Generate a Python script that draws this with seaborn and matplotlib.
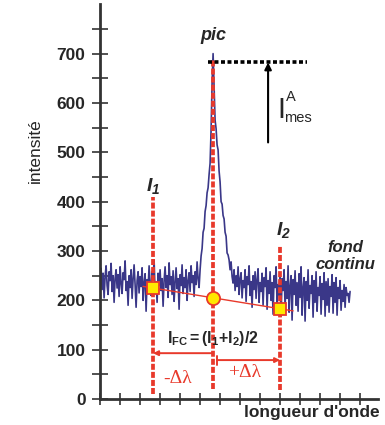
import numpy as np
import pandas as pd
import matplotlib
matplotlib.use("Agg")
import matplotlib.pyplot as plt
import seaborn as sns

# ---- data ----
baseline_left = [
    238, 265, 222, 255, 205, 248, 270, 230, 212, 258,
    240, 275, 218, 250, 196, 245, 262, 225, 252, 208,
    268, 235, 214, 256, 242, 280, 220, 238, 190, 250,
    226, 262, 204, 244, 272, 232, 186, 240, 258, 215,
    248, 228, 266, 200, 236, 254, 178, 242, 222, 270,
    234, 210, 258, 246, 282, 216, 238, 196, 255, 230,
    262, 220, 244, 188, 240, 268, 226, 250, 206, 276,
    232, 248, 212, 260, 198, 236, 266, 224, 244, 182,
    252, 230, 272, 214, 246, 226, 262, 200, 240, 256,
    218, 270, 236, 250, 208, 258, 232, 278, 244, 226,
    262,
]
peak = [
    290, 305, 338, 346, 380, 392, 418, 428, 455, 478,
    545, 640, 700, 630, 565, 548, 515, 505, 462, 440,
    400, 395, 372, 365, 338, 330, 296, 292, 282, 262,
    278, 248,
]
baseline_right = [
    235, 262, 220, 250, 228, 268, 212, 244, 256, 205,
    240, 226, 262, 198, 248, 232, 270, 210, 238, 186,
    250, 222, 258, 204, 242, 264, 196, 236, 218, 255,
    190, 246, 228, 266, 182, 240, 214, 258, 200, 236,
    172, 250, 226, 268, 194, 232, 210, 256, 168, 244,
    220, 262, 186, 238, 204, 270, 176, 228, 250, 160,
    242, 212, 260, 190, 236, 178, 254, 206, 268, 170,
    226, 246, 158, 238, 200, 262, 184, 230, 214, 250,
    166, 240, 196, 258, 178, 226, 210, 248, 172, 234,
    202, 256, 168, 238, 190, 244, 176, 228, 208, 252,
    174, 236, 196, 246, 170, 226, 204, 240, 180, 220,
    198, 232, 186, 226, 210, 214, 196, 218,
]
intensity = baseline_left + peak + baseline_right
wavelength = np.linspace(0, 12.5, len(intensity))

lam_I1, lam_pic, lam_I2 = 2.65, 5.65, 9.0
I1, IFC, I2 = 225, 205, 183
peak_top = 682
y_major = [0, 100, 200, 300, 400, 500, 600, 700]

df = pd.DataFrame({"lam": wavelength, "I": intensity})

sns.set_theme(style="white")
plt.rcParams["font.family"] = ["Liberation Sans", "DejaVu Sans"]
plt.rcParams["mathtext.fontset"] = "custom"
plt.rcParams["mathtext.rm"] = "Liberation Sans"
plt.rcParams["mathtext.bf"] = "Liberation Sans:bold"
plt.rcParams["mathtext.it"] = "Liberation Sans:italic"
plt.rcParams["mathtext.bfit"] = "Liberation Sans:bold:italic"

fig = plt.figure(figsize=(3.85, 4.25), dpi=100)
ax = fig.add_axes([0.26, 0.061, 0.722, 0.929])

RED = "#e8392b"
NAVY = "#3a3788"

sns.lineplot(data=df, x="lam", y="I", ax=ax, color=NAVY, lw=1.2, zorder=2)

# red dashed verticals
dash = (0, (1.6, 0.55))
ax.plot([lam_I1, lam_I1], [10, 410], color=RED, lw=2.7, ls=dash, zorder=3)
ax.plot([lam_pic, lam_pic], [20, 690], color=RED, lw=2.7, ls=dash, zorder=3)
ax.plot([lam_I2, lam_I2], [18, 312], color=RED, lw=2.7, ls=dash, zorder=3)

# continuum line
slope = (I2 - I1) / (lam_I2 - lam_I1)
xl = np.array([2.15, 9.65])
ax.plot(xl, I1 + slope * (xl - lam_I1), color=RED, lw=1.0, zorder=4)

ax.plot([lam_I1, lam_I2], [I1, I2], ls="none", marker="s", ms=8.5,
        mfc="#ffe800", mec=RED, mew=1.3, zorder=5)
ax.plot([lam_pic], [IFC], ls="none", marker="o", ms=9.5,
        mfc="#ffe800", mec=RED, mew=1.3, zorder=5)

# peak height dotted line and arrow
ax.plot([5.4, 10.35], [peak_top, peak_top], color="black", lw=2.6,
        ls=(0, (1.1, 0.7)), zorder=4)
ax.annotate("", xy=(8.4, peak_top), xytext=(8.4, 520),
            arrowprops=dict(arrowstyle="-|>", color="black", lw=1.5,
                            mutation_scale=10, shrinkA=0, shrinkB=0))

# delta lambda arrows
ax.annotate("", xy=(lam_I1, 93), xytext=(lam_pic, 93),
            arrowprops=dict(arrowstyle="-|>", color=RED, lw=1.4,
                            mutation_scale=7, shrinkA=0, shrinkB=0))
ax.annotate("", xy=(lam_I2, 79), xytext=(lam_pic + 0.2, 79),
            arrowprops=dict(arrowstyle="-|>", color=RED, lw=1.4,
                            mutation_scale=7, shrinkA=0, shrinkB=0))
ax.plot([lam_pic + 0.2, lam_pic + 0.2], [70, 88], color=RED, lw=1.4, zorder=4)
ax.text(3.9, 42, "-Δλ", color=RED, fontsize=14, ha="center", va="center",
        family=["Liberation Serif", "DejaVu Serif"])
ax.text(7.25, 53, "+Δλ", color=RED, fontsize=14, ha="center", va="center",
        family=["Liberation Serif", "DejaVu Serif"])

# labels
ax.text(lam_pic, 737, "pic", fontsize=13, fontweight="bold",
        style="italic", ha="center", va="center")
ax.text(lam_I1, 432, r"$\mathbfit{I}_{\mathbfit{1}}$", fontsize=14,
        ha="center", va="center")
ax.text(lam_I2 + 0.15, 342, r"$\mathbfit{I}_{\mathbfit{2}}$", fontsize=14,
        ha="center", va="center")
ax.text(12.25, 290, "fond\ncontinu", fontsize=12, fontweight="bold",
        style="italic", ha="center", va="center", linespacing=1.1)
ax.text(5.65, 123, r"$\mathbf{I}_{\mathbf{FC}}\mathbf{=(I}_{\mathbf{1}}\mathbf{+I}_{\mathbf{2}}\mathbf{)/2}$",
        fontsize=11.5, ha="center", va="center")
ax.text(9.05, 585, "I", fontsize=21, ha="center", va="center")
ax.text(9.55, 612, "A", fontsize=10.5, ha="center", va="center")
ax.text(9.9, 570, "mes", fontsize=10.5, ha="center", va="center")

# axes styling
ax.set_xlim(0, 13.9)
ax.set_ylim(0, 800)
ax.set_yticks(y_major)
ax.set_yticklabels([str(v) for v in y_major], fontweight="bold", fontsize=12.5)
ax.set_yticks(np.arange(50, 800, 100), minor=True)
ax.set_xticks(np.arange(0, 14, 1))
ax.set_xticklabels([])
ax.tick_params(axis="both", which="both", direction="inout", length=11,
               width=1.2, color="#333333", left=True, bottom=True, pad=5)
ax.tick_params(axis="x", length=9)
for s in ["top", "right"]:
    ax.spines[s].set_visible(False)
for s in ["left", "bottom"]:
    ax.spines[s].set_color("#333333")
    ax.spines[s].set_linewidth(2)
ax.set_xlabel("")
ax.set_ylabel("intensité", fontsize=12.5)
ax.yaxis.set_label_coords(-0.205, 0.63)
fig.text(0.985, 0.03, "longueur d'onde", fontsize=12.5, fontweight="bold",
         ha="right", va="center")

fig.savefig("out.png", dpi=100)
